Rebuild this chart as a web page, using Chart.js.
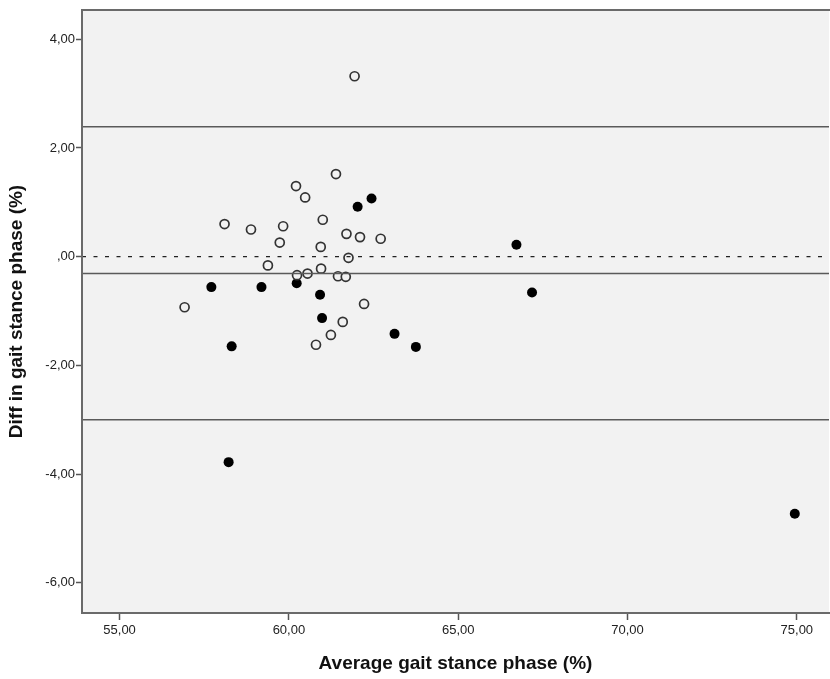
<!DOCTYPE html>
<html>
<head>
<meta charset="utf-8">
<script src="https://cdn.jsdelivr.net/npm/chart.js@4"></script>
<style>
  html, body { margin: 0; padding: 0; background: #fff; overflow: hidden; }
  #wrap { width: 830px; height: 679px; }
</style>
</head>
<body>
<div id="wrap"><canvas id="blandAltman"></canvas></div>
<script>
// open circles (group 1)
const openX = [61.94, 61.39, 60.21, 60.48, 58.10, 58.88, 59.83, 61.00, 59.73, 61.70, 62.10, 62.71, 60.94,
               61.76, 59.38, 60.95, 60.24, 60.55, 61.45, 61.68, 62.22, 61.59, 61.24, 60.80, 56.92];
const openY = [3.32, 1.52, 1.30, 1.09, 0.60, 0.50, 0.56, 0.68, 0.26, 0.42, 0.36, 0.33, 0.18,
               -0.02, -0.16, -0.22, -0.34, -0.31, -0.36, -0.37, -0.87, -1.20, -1.44, -1.62, -0.93];
// filled circles (group 2)
const filledX = [62.03, 62.44, 57.71, 59.19, 60.23, 60.92, 60.98, 63.12, 63.75, 58.31, 66.72, 67.18, 58.22, 74.94];
const filledY = [0.92, 1.07, -0.56, -0.56, -0.49, -0.70, -1.13, -1.42, -1.66, -1.65, 0.22, -0.66, -3.78, -4.73];

// mean difference and limits of agreement
const meanDiff = -0.31;
const upperLoA = 2.39;
const lowerLoA = -3.00;

const xTicks = [55, 60, 65, 70, 75];
const yTicks = [-6, -4, -2, 0, 2, 4];
const xMin = 53.89, xMax = 75.95;
const yMin = -6.556, yMax = 4.539;

const tickFont = { family: 'Arial, "Liberation Sans", sans-serif', size: 13 };
const titleFont = { family: 'Arial, "Liberation Sans", sans-serif', size: 19, weight: 'bold' };

function fmt(v) {
    // SPSS style: comma decimal, no leading zero
    let s = Math.abs(v).toFixed(2).replace('.', ',');
    if (s.startsWith('0,')) s = s.substring(1);
    return (v < 0 ? '-' : '') + s;
}

function hLine(y, color, width, dash) {
    return {
        type: 'line',
        data: [{ x: xMin, y: y }, { x: xMax, y: y }],
        borderColor: color,
        borderWidth: width,
        borderDash: dash,
        pointRadius: 0,
        pointHoverRadius: 0,
        fill: false
    };
}

// plot background + frame
const frame = {
    id: 'frame',
    beforeDatasetsDraw(chart) {
        const a = chart.chartArea, c = chart.ctx;
        c.save();
        c.fillStyle = '#f2f2f2';
        c.fillRect(a.left, a.top, a.right - a.left, a.bottom - a.top);
        c.restore();
    },
    afterDatasetsDraw(chart) {
        const a = chart.chartArea, c = chart.ctx;
        c.save();
        c.strokeStyle = '#6a6a6a';
        c.lineWidth = 2;
        c.beginPath();
        c.moveTo(a.right + 2, a.top);
        c.lineTo(a.left, a.top);
        c.lineTo(a.left, a.bottom);
        c.lineTo(a.right + 2, a.bottom);
        c.stroke();
        c.restore();
    }
};

const ctx = document.getElementById('blandAltman').getContext('2d');
new Chart(ctx, {
    type: 'scatter',
    data: {
        datasets: [
            hLine(0, '#222', 1.2, [4, 7.5]),
            hLine(upperLoA, '#5a5a5a', 1.6, []),
            hLine(meanDiff, '#5a5a5a', 1.6, []),
            hLine(lowerLoA, '#5a5a5a', 1.6, []),
            {
                data: openX.map((x, i) => ({ x: x, y: openY[i] })),
                pointRadius: 4.5,
                pointBorderWidth: 1.7,
                pointBorderColor: '#333',
                pointBackgroundColor: '#f2f2f2'
            },
            {
                data: filledX.map((x, i) => ({ x: x, y: filledY[i] })),
                pointRadius: 5,
                pointBorderWidth: 0,
                pointBackgroundColor: '#000'
            }
        ]
    },
    options: {
        responsive: true,
        maintainAspectRatio: false,
        animation: false,
        layout: { autoPadding: false, padding: { top: 10, right: 1, left: 0, bottom: 0 } },
        plugins: { legend: { display: false }, tooltip: { enabled: false } },
        scales: {
            x: {
                type: 'linear',
                min: xMin,
                max: xMax,
                afterBuildTicks: s => { s.ticks = xTicks.map(v => ({ value: v })); },
                afterFit: s => { s.height = 66; s.paddingLeft = 0; s.paddingRight = 0; },
                grid: { display: true, drawOnChartArea: false, drawTicks: true, tickLength: 7, tickColor: '#555', tickWidth: 1.5 },
                border: { display: false },
                ticks: {
                    callback: v => fmt(v),
                    color: '#222',
                    font: tickFont,
                    padding: 3,
                    maxRotation: 0
                },
                title: {
                    display: true,
                    text: 'Average gait stance phase (%)',
                    color: '#111',
                    font: titleFont,
                    padding: { top: 4, bottom: 4 }
                }
            },
            y: {
                type: 'linear',
                min: yMin,
                max: yMax,
                afterBuildTicks: s => { s.ticks = yTicks.map(v => ({ value: v })); },
                afterFit: s => { s.width = 82; },
                grid: { display: true, drawOnChartArea: false, drawTicks: true, tickLength: 6, tickColor: '#555', tickWidth: 1.5 },
                border: { display: false },
                ticks: {
                    callback: v => fmt(v),
                    color: '#222',
                    font: tickFont,
                    padding: 1
                },
                title: {
                    display: true,
                    text: 'Diff in gait stance phase (%)',
                    color: '#111',
                    font: titleFont,
                    padding: { top: 5, bottom: 0 }
                }
            }
        }
    },
    plugins: [frame]
});
</script>
</body>
</html>
